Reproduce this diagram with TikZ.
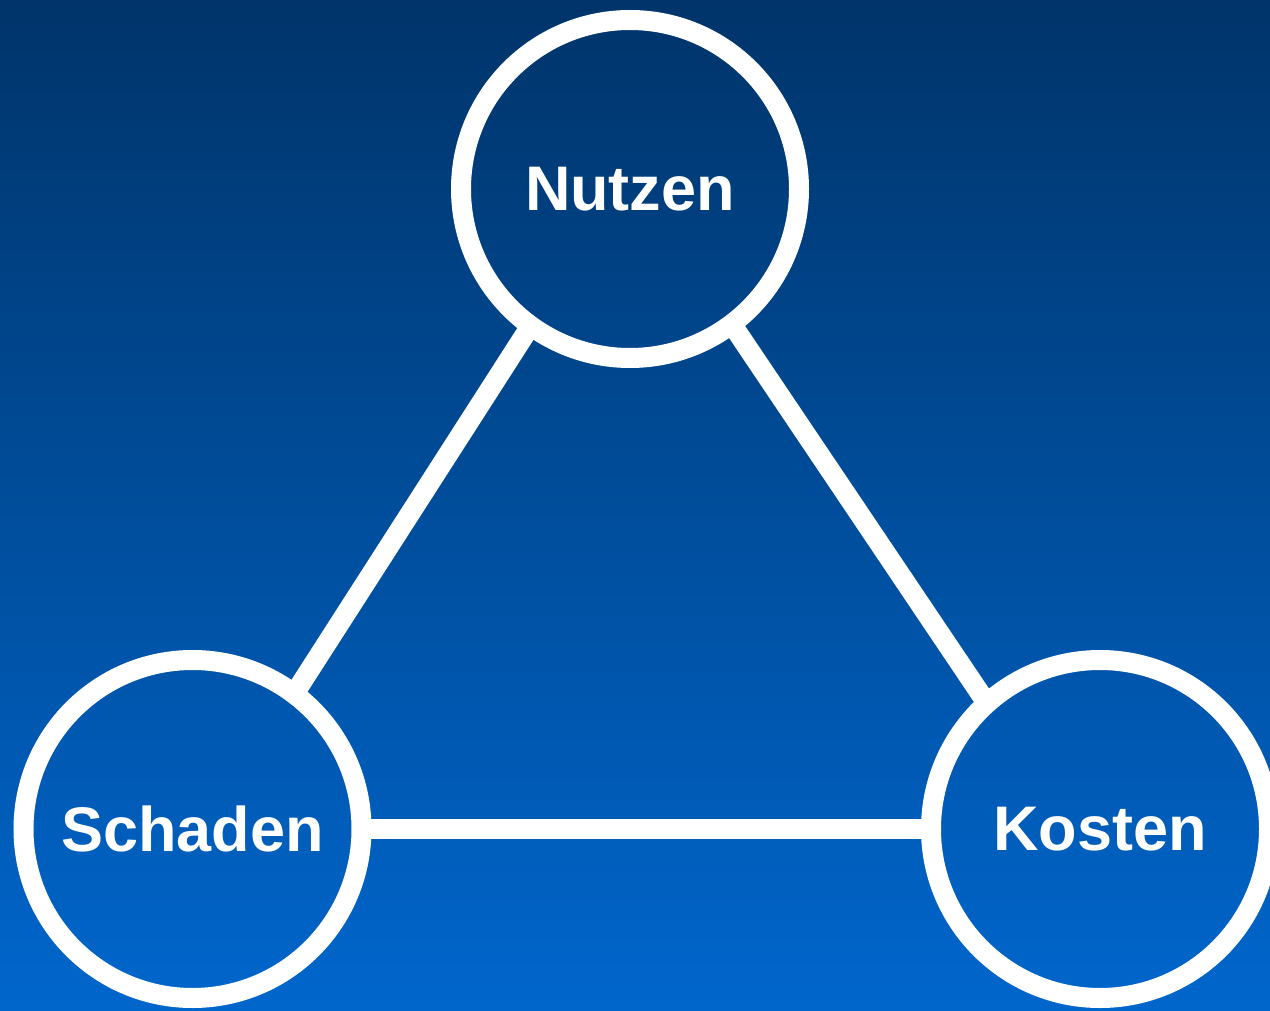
\documentclass[tikz,border=0pt]{standalone}
\usepackage{fontspec}
\setmainfont{Liberation Sans}
\definecolor{bgtop}{RGB}{0,52,106}
\definecolor{bgbot}{RGB}{0,102,204}
\begin{document}
\begin{tikzpicture}[x=1pt,y=-1pt,
  ring/.style={circle, draw=white, line width=20pt, minimum size=338pt,
    inner sep=0pt, outer sep=0pt, text=white,
    font=\fontsize{63}{70}\selectfont\bfseries},
  link/.style={draw=white, line width=20pt}]
  % canvas with vertical blue gradient
  \useasboundingbox (0,0) rectangle (1270,1011);
  \clip (0,0) rectangle (1270,1011);
  \shade[top color=bgtop, bottom color=bgbot] (0,0) rectangle (1270,1011);

  % the three terms
  \node[ring] (nutzen)  at (630,189)   {Nutzen};
  \node[ring] (schaden) at (192.5,829) {Schaden};
  \node[ring] (kosten)  at (1100,829)  {Kosten};

  % connections between them
  \path[link] (nutzen.234.1) -- (schaden.53.1);
  \path[link] (nutzen.307.4) -- (kosten.132.2);
  \path[link] (schaden.0) -- (kosten.180);
\end{tikzpicture}
\end{document}
